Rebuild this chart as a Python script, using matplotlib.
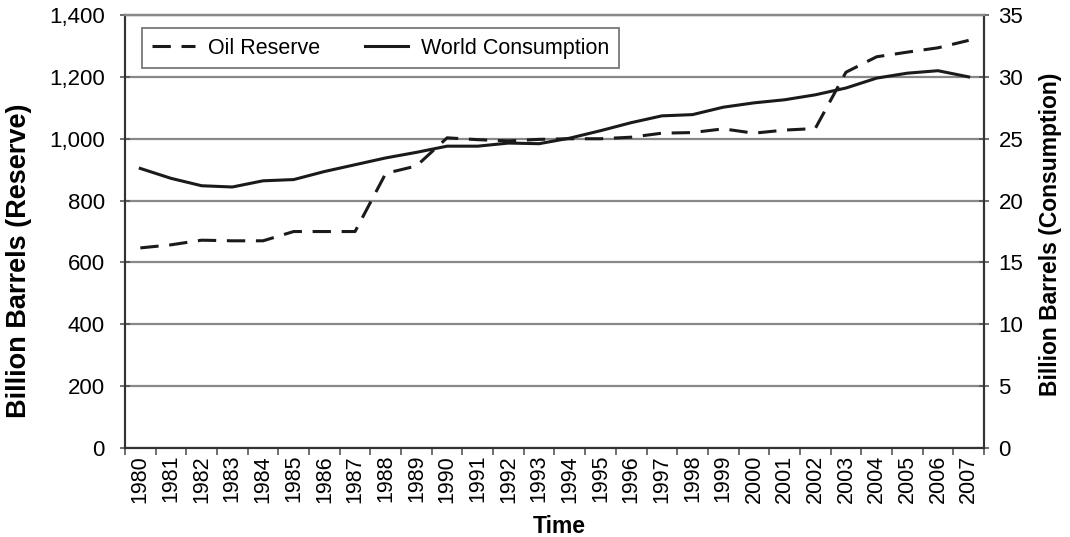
import matplotlib
matplotlib.use('Agg')
import matplotlib.pyplot as plt
from matplotlib.lines import Line2D
from matplotlib.ticker import FuncFormatter
import numpy as np

plt.rcParams['font.family'] = ['Liberation Sans', 'DejaVu Sans']

years = list(range(1980, 2008))
reserve = [647, 657, 672, 670, 670, 700, 700, 700, 888, 912,
           1003, 997, 993, 998, 1000, 1000, 1005, 1018, 1020, 1032,
           1018, 1028, 1033, 1215, 1265, 1280, 1294, 1318]
consumption = [22.6, 21.8, 21.2, 21.1, 21.6, 21.7, 22.35, 22.9, 23.45, 23.9,
               24.4, 24.4, 24.65, 24.6, 25.05, 25.65, 26.3, 26.85, 26.95, 27.55,
               27.9, 28.15, 28.55, 29.1, 29.9, 30.3, 30.5, 30.0]

dash = (0, (6, 3.5))
line_col = '#1a1a1a'

fig = plt.figure(figsize=(10.7, 5.37), dpi=100)
fig.patch.set_facecolor('white')
ax = fig.add_axes([0.1168, 0.1657, 0.8028, 0.8063])
ax2 = ax.twinx()

x = np.arange(len(years))
ax.plot(x, reserve, color=line_col, lw=2.2, linestyle=dash)
ax2.plot(x, consumption, color=line_col, lw=2.2)

ax.set_xlim(-0.5, len(years) - 0.5)
ax.set_ylim(0, 1400)
ax2.set_ylim(0, 35)
ax.set_yticks(np.arange(0, 1401, 200))
ax2.set_yticks(np.arange(0, 36, 5))
ax.yaxis.set_major_formatter(FuncFormatter(lambda v, p: f'{int(v):,}'))

ax.grid(axis='y', color='#888888', lw=1.6)
ax.set_axisbelow(True)

# tick marks between categories, labels at centers
ax.set_xticks(np.arange(-0.5, len(years), 1.0))
ax.set_xticklabels([])
ax.set_xticks(x, minor=True)
ax.set_xticklabels([str(y) for y in years], minor=True, rotation=90, fontsize=15.5)
ax.tick_params(axis='x', which='major', length=5, width=1.2, direction='out', color='#555555')
ax.tick_params(axis='x', which='minor', length=0, pad=5)
ax.tick_params(axis='y', length=7, width=1.2, direction='inout', labelsize=16, pad=11,
               color='#555555')
ax2.tick_params(axis='y', length=7, width=1.2, direction='inout', labelsize=16, pad=7,
                color='#555555')

for a in (ax, ax2):
    a.spines['top'].set_color('#888888')
    a.spines['top'].set_linewidth(1.6)
    for s in ('left', 'right', 'bottom'):
        a.spines[s].set_color('#333333')
        a.spines[s].set_linewidth(1.5)

ax.set_ylabel('Billion Barrels (Reserve)', fontsize=19.5, fontweight='bold')
ax.yaxis.set_label_coords(-0.108, 0.433)
ax2.set_ylabel('Billion Barrels (Consumption)', fontsize=16.5, fontweight='bold')
ax2.yaxis.set_label_coords(1.064, 0.493)
ax.set_xlabel('Time', fontsize=16.5, fontweight='bold')
ax.xaxis.set_label_coords(0.505, -0.155)

handles = [Line2D([], [], color=line_col, lw=2.2, linestyle=dash),
           Line2D([], [], color=line_col, lw=2.2)]
leg = ax2.legend(handles, ['Oil Reserve', 'World Consumption'], loc='upper left',
                 ncol=2, fontsize=15.5, frameon=True, fancybox=False,
                 bbox_to_anchor=(142 / 1070, 1 - 28 / 537), bbox_transform=fig.transFigure,
                 borderaxespad=0, columnspacing=2.1, handlelength=2.0,
                 handletextpad=0.6, borderpad=0.45, framealpha=1)
leg.get_frame().set_edgecolor('#777777')
leg.get_frame().set_linewidth(1.3)

plt.savefig('out.png', dpi=100, facecolor='white')
